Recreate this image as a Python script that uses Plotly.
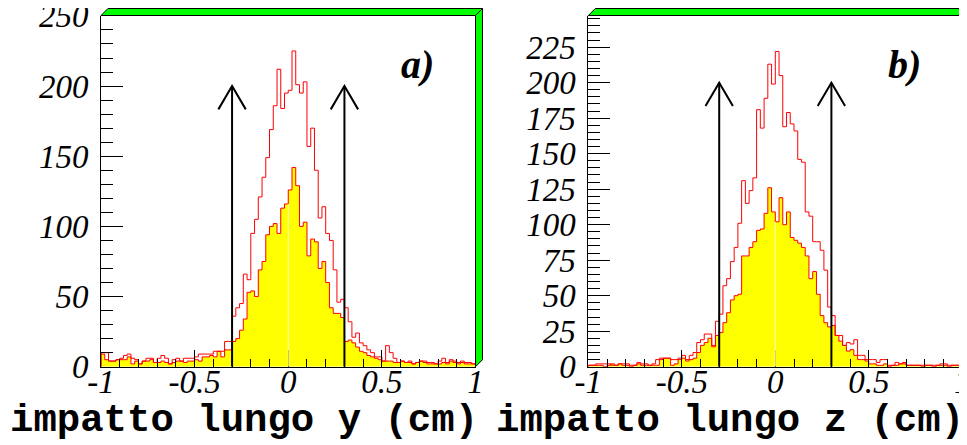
import numpy as np
import plotly.graph_objects as go

# page offset: the browser body adds an 8 px margin around the figure
OFF = 8
W, H = 967 - OFF, 445 - OFF

# ---------------- data (100 bins from -1 to 1) ----------------
bin_lo, bin_hi, n_bins = -1.0, 1.0, 100

y_all = [  # panel a) red open histogram
    10, 10, 4, 4, 5, 6, 8, 9, 6, 5,
    2, 4, 6, 6, 3, 6, 8, 6, 2, 5,
    6, 4, 6, 6, 6, 7, 9, 9, 9, 9,
    11, 11, 11, 18, 18, 36, 42, 45, 66, 62,
    95, 105, 121, 135, 149, 169, 186, 212, 184, 195,
    197, 225, 201, 195, 203, 157, 170, 140, 106, 114,
    95, 90, 69, 46, 48, 42, 32, 21, 24, 17,
    15, 12, 10, 7, 7, 4, 15, 10, 6, 3,
    4, 3, 4, 2, 3, 4, 4, 3, 3, 2,
    4, 6, 3, 5, 4, 3, 4, 3, 3, 2,
]
y_sel = [  # panel a) yellow filled histogram
    9, 5, 4, 4, 5, 5, 5, 7, 2, 4,
    2, 4, 4, 5, 3, 3, 4, 3, 2, 3,
    4, 4, 3, 4, 4, 5, 4, 7, 7, 8,
    7, 11, 7, 12, 12, 18, 20, 26, 34, 53,
    54, 50, 69, 75, 94, 100, 102, 95, 113, 116,
    126, 142, 129, 100, 103, 79, 91, 89, 70, 75,
    60, 42, 38, 38, 35, 18, 19, 17, 14, 11,
    10, 8, 7, 6, 5, 4, 4, 4, 3, 3,
    4, 3, 3, 2, 3, 4, 3, 2, 2, 2,
    2, 3, 2, 4, 3, 2, 3, 2, 2, 2,
]
z_all = [  # panel b) red open histogram
    1, 1, 2, 2, 2, 2, 1, 1, 2, 2,
    2, 1, 1, 3, 2, 2, 1, 2, 5, 6,
    6, 6, 5, 5, 6, 8, 5, 8, 10, 17,
    19, 23, 23, 15, 32, 37, 57, 62, 74, 84,
    101, 131, 115, 124, 133, 181, 168, 189, 213, 199,
    222, 205, 169, 179, 171, 166, 146, 144, 109, 106,
    88, 88, 82, 68, 42, 36, 22, 22, 15, 17,
    16, 19, 8, 8, 5, 5, 5, 3, 5, 5,
    1, 1, 3, 2, 3, 1, 1, 1, 1, 1,
    1, 1, 1, 1, 2, 2, 1, 1, 1, 1,
]
z_sel = [  # panel b) yellow filled histogram
    1, 1, 1, 1, 0, 1, 2, 1, 2, 1,
    1, 0, 1, 2, 1, 1, 1, 1, 1, 5,
    6, 6, 1, 2, 5, 6, 4, 5, 6, 10,
    15, 17, 20, 14, 22, 24, 31, 38, 47, 50,
    51, 78, 78, 84, 88, 96, 97, 108, 126, 109,
    102, 119, 100, 109, 91, 89, 87, 84, 78, 62,
    67, 51, 36, 31, 28, 29, 22, 18, 15, 11,
    12, 8, 5, 5, 4, 2, 2, 1, 1, 2,
    0, 1, 1, 2, 2, 1, 1, 1, 1, 0,
    1, 1, 0, 1, 1, 1, 0, 1, 1, 1,
]

x_tickvals = [-1, -0.5, 0, 0.5, 1]
x_ticktext = ["-1", "-0.5", "0", "0.5", "1"]
cuts = [-0.3, 0.3]
arrow_top = 200
panel_labels = ["a)", "b)"]
x_titles = ["impatto lungo y (cm)", "impatto lungo z (cm)"]
y_max = [250.3, 247.3]
y_dtick = [50, 25]
y_minor = [10, 5]

# ---------------- layout geometry (page pixels) ----------------
panels = [dict(x0=101.0, x1=475.5), dict(x0=588.3, x1=962.3)]
y_top_px, y_bot_px = 15.5, 366.7
bevel = 7.0

edges = np.linspace(bin_lo, bin_hi, n_bins + 1)


def step_xy(vals):
    xs = [edges[0]] + list(edges[:-1]) + [edges[-1], edges[-1]]
    ys = [0] + list(vals) + [vals[-1], 0]
    return xs, ys


def px(xp):
    return (xp - OFF) / W


def py(yp):
    return 1 - (yp - OFF) / H


fig = go.Figure()
data_sets = [(y_all, y_sel), (z_all, z_sel)]
shapes = []
annotations = []
tickfont = dict(family="Liberation Serif", size=33, color="black", style="italic")

for i, (all_v, sel_v) in enumerate(data_sets):
    xa = "x" if i == 0 else "x2"
    ya = "y" if i == 0 else "y2"
    xs, ys = step_xy(sel_v)
    fig.add_trace(go.Scatter(x=xs, y=ys, mode="lines", line=dict(shape="hv", color="#ff0000", width=1),
                             fill="tozeroy", fillcolor="#ffff00", xaxis=xa, yaxis=ya,
                             showlegend=False, hoverinfo="skip"))
    xs, ys = step_xy(all_v)
    fig.add_trace(go.Scatter(x=xs, y=ys, mode="lines", line=dict(shape="hv", color="#ff0000", width=1),
                             xaxis=xa, yaxis=ya, showlegend=False, hoverinfo="skip"))

    p = panels[i]
    ax_key = "xaxis" if i == 0 else "xaxis2"
    ay_key = "yaxis" if i == 0 else "yaxis2"
    fig.update_layout(**{
        ax_key: dict(domain=[px(p["x0"]), px(p["x1"])], range=[bin_lo, bin_hi], anchor=ya,
                     automargin=False, ticklabeloverflow="allow",
                     showgrid=False, zeroline=False, showline=True, linecolor="black", linewidth=1,
                     ticks="inside", ticklen=17, tickwidth=1, tickcolor="black",
                     tickvals=x_tickvals, ticktext=x_ticktext, tickfont=tickfont, ticklabelstandoff=-14,
                     minor=dict(ticks="inside", ticklen=8, dtick=0.1, tick0=0, tickcolor="black",
                                showgrid=False)),
        ay_key: dict(domain=[py(y_bot_px), py(y_top_px)], range=[0, y_max[i]], anchor=xa,
                     automargin=False, ticklabeloverflow="allow",
                     showgrid=False, zeroline=False, showline=True, linecolor="black", linewidth=1,
                     ticks="inside", ticklen=22, tickwidth=1, tickcolor="black",
                     dtick=y_dtick[i], tick0=0, tickfont=tickfont, ticklabelstandoff=5,
                     minor=dict(ticks="inside", ticklen=12, dtick=y_minor[i], tick0=0,
                                tickcolor="black", showgrid=False)),
    })

    # faint seam at x=0 in the filled histogram
    mid = n_bins // 2
    shapes.append(dict(type="line", xref=xa, yref=ya, x0=0, x1=0, y0=0,
                       y1=min(sel_v[mid - 1], sel_v[mid]), line=dict(color="#ffffc8", width=1), layer="above"))

    # arrows at the cuts
    ppx = (p["x1"] - p["x0"]) / (bin_hi - bin_lo)  # px per x unit
    ppy = (y_bot_px - y_top_px) / y_max[i]  # px per count
    dx = 13.7 / ppx
    dy = 23.3 / ppy
    for c in cuts:
        shapes.append(dict(type="line", xref=xa, yref=ya, x0=c, x1=c, y0=0, y1=arrow_top,
                           line=dict(color="black", width=2)))
        shapes.append(dict(type="path", xref=xa, yref=ya,
                           path=f"M {c-dx},{arrow_top-dy} L {c},{arrow_top} L {c+dx},{arrow_top-dy}",
                           line=dict(color="black", width=2)))

    # green bevelled frame (top and right)
    x0, x1 = p["x0"], p["x1"]
    top = [(x0, y_top_px), (x0 + bevel, y_top_px - bevel), (x1 + bevel, y_top_px - bevel), (x1, y_top_px)]
    right = [(x1, y_top_px), (x1 + bevel, y_top_px - bevel), (x1 + bevel, y_bot_px - bevel), (x1, y_bot_px)]
    for poly in (top, right):
        path = "M " + " L ".join(f"{px(a)},{py(b)}" for a, b in poly) + " Z"
        shapes.append(dict(type="path", xref="paper", yref="paper", path=path,
                           fillcolor="#00ff00", line=dict(color="black", width=1), layer="above"))

    # panel label
    annotations.append(dict(text=f"<b><i>{panel_labels[i]}</i></b>", xref="paper", yref="paper",
                            x=px(x1 - 58), y=py(64), xanchor="center", yanchor="middle", showarrow=False,
                            font=dict(family="Liberation Serif", size=40, color="black")))
    # axis title
    annotations.append(dict(text=f"<b>{x_titles[i]}</b>", xref="paper", yref="paper",
                            x=px(x1 + 4), y=py(421), xanchor="right", yanchor="middle", showarrow=False,
                            font=dict(family="Liberation Mono", size=39, color="black")))

fig.update_layout(width=W, height=H, margin=dict(l=0, r=0, t=0, b=0, autoexpand=False),
                  paper_bgcolor="white", plot_bgcolor="white",
                  shapes=shapes, annotations=annotations, showlegend=False)

fig.write_html("out.html")
